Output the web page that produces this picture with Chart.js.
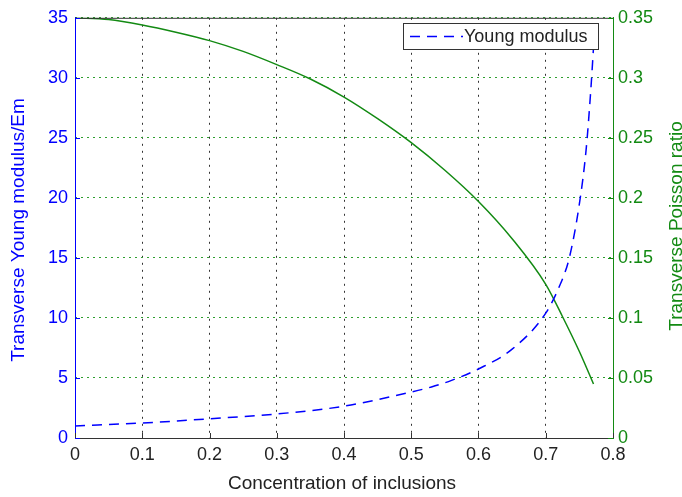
<!DOCTYPE html>
<html>
<head>
<meta charset="utf-8">
<script src="https://cdn.jsdelivr.net/npm/chart.js@4.4.0/dist/chart.umd.min.js"></script>
<style>
  body { margin: 0; background: #fff; }
  #wrap { width: 682px; height: 497px; }
</style>
</head>
<body>
<div id="wrap"><canvas id="chart" width="682" height="497"></canvas></div>
<script>
// concentration values (x) and the two curves
const youngX = [0, 0.1, 0.2, 0.3, 0.4, 0.5, 0.53, 0.56, 0.6, 0.65, 0.7, 0.72, 0.735, 0.75, 0.76, 0.767, 0.771];
const youngY = [1.0, 1.25, 1.6, 2.0, 2.65, 3.83, 4.25, 4.8, 5.75, 7.4, 10.4, 12.6, 15, 19.5, 24, 29, 32.5];

const poissonX = [0, 0.05, 0.1, 0.15, 0.2, 0.25, 0.3, 0.35, 0.4, 0.45, 0.5, 0.55, 0.6, 0.65, 0.7, 0.725, 0.75, 0.771];
const poissonY = [0.35, 0.3485, 0.344, 0.338, 0.331, 0.322, 0.311, 0.299, 0.284, 0.266, 0.246, 0.223, 0.197, 0.166, 0.128, 0.101, 0.072, 0.045];

const xTicks = [0, 0.1, 0.2, 0.3, 0.4, 0.5, 0.6, 0.7, 0.8];
const xTickLabels = ["0", "0.1", "0.2", "0.3", "0.4", "0.5", "0.6", "0.7", "0.8"];
const leftTicks = [0, 5, 10, 15, 20, 25, 30, 35];
const leftTickLabels = ["0", "5", "10", "15", "20", "25", "30", "35"];
const rightTicks = [0, 0.05, 0.1, 0.15, 0.2, 0.25, 0.3, 0.35];
const rightTickLabels = ["0", "0.05", "0.1", "0.15", "0.2", "0.25", "0.3", "0.35"];

const BLUE = "#0000ff";
const GREEN = "#138a13";
const GRID_GREEN = "#30a030";
const DARK = "#333333";
const FONT = "'Liberation Sans', Arial, sans-serif";

function pts(xs, ys) {
    return xs.map((x, i) => ({ x: x, y: ys[i] }));
}

// titles, legend box, inward ticks and top box line
const decorations = {
    id: "decorations",
    afterDraw(chart) {
        const ctx = chart.ctx;
        const a = chart.chartArea;
        const sx = chart.scales.x, sy = chart.scales.y, sy1 = chart.scales.y1;
        ctx.save();

        // top line of the box
        ctx.strokeStyle = DARK;
        ctx.lineWidth = 1;
        ctx.beginPath();
        ctx.moveTo(a.left, a.top + 0.5);
        ctx.lineTo(a.right, a.top + 0.5);
        ctx.stroke();

        // ticks pointing inwards
        xTicks.forEach(v => {
            const px = Math.round(sx.getPixelForValue(v)) + 0.5;
            ctx.strokeStyle = DARK;
            ctx.beginPath();
            ctx.moveTo(px, a.bottom);
            ctx.lineTo(px, a.bottom - 5);
            ctx.stroke();
        });
        leftTicks.forEach(v => {
            const py = Math.round(sy.getPixelForValue(v)) + 0.5;
            ctx.strokeStyle = BLUE;
            ctx.beginPath();
            ctx.moveTo(a.left, py);
            ctx.lineTo(a.left + 5, py);
            ctx.stroke();
        });
        rightTicks.forEach(v => {
            const py = Math.round(sy1.getPixelForValue(v)) + 0.5;
            ctx.strokeStyle = GREEN;
            ctx.beginPath();
            ctx.moveTo(a.right, py);
            ctx.lineTo(a.right - 5, py);
            ctx.stroke();
        });

        // axis titles
        ctx.font = "19px " + FONT;
        ctx.textAlign = "center";
        ctx.textBaseline = "middle";
        ctx.fillStyle = "#222";
        ctx.fillText("Concentration of inclusions", 342, 484);

        ctx.save();
        ctx.translate(19, 230);
        ctx.rotate(-Math.PI / 2);
        ctx.fillStyle = BLUE;
        ctx.fillText("Transverse Young modulus/Em", 0, 0);
        ctx.restore();

        ctx.save();
        ctx.translate(677, 226);
        ctx.rotate(-Math.PI / 2);
        ctx.fillStyle = GREEN;
        ctx.fillText("Transverse Poisson ratio", 0, 0);
        ctx.restore();

        // legend box
        const ds = chart.data.datasets[0];
        ctx.fillStyle = "#fff";
        ctx.fillRect(403.5, 23.5, 195, 26);
        ctx.strokeStyle = DARK;
        ctx.lineWidth = 1;
        ctx.strokeRect(403.5, 23.5, 195, 26);
        ctx.strokeStyle = ds.borderColor;
        ctx.lineWidth = ds.borderWidth;
        ctx.setLineDash(ds.borderDash);
        ctx.beginPath();
        ctx.moveTo(410, 36.5);
        ctx.lineTo(463, 36.5);
        ctx.stroke();
        ctx.setLineDash([]);
        ctx.fillStyle = "#222";
        ctx.textAlign = "left";
        ctx.font = "18px " + FONT;
        ctx.fillText(ds.label, 464, 37);

        ctx.restore();
    }
};

const ctx = document.getElementById("chart").getContext("2d");
const chart = new Chart(ctx, {
    type: "line",
    data: {
        datasets: [
            {
                label: "Young modulus",
                data: pts(youngX, youngY),
                yAxisID: "y",
                borderColor: BLUE,
                borderWidth: 1.5,
                borderDash: [10, 7],
                pointRadius: 0,
                fill: false,
                cubicInterpolationMode: "monotone"
            },
            {
                label: "Poisson ratio",
                data: pts(poissonX, poissonY),
                yAxisID: "y1",
                borderColor: GREEN,
                borderWidth: 1.5,
                pointRadius: 0,
                fill: false,
                cubicInterpolationMode: "monotone"
            }
        ]
    },
    options: {
        responsive: false,
        animation: false,
        layout: { padding: { top: 15, left: 0, right: 0, bottom: 0 } },
        plugins: {
            legend: { display: false },
            tooltip: { enabled: false }
        },
        scales: {
            x: {
                type: "linear",
                min: 0,
                max: 0.8,
                afterBuildTicks: s => { s.ticks = xTicks.map(v => ({ value: v })); },
                afterFit: s => { s.height = 59; },
                ticks: {
                    color: "#222",
                    font: { family: FONT, size: 18 },
                    padding: 6,
                    maxRotation: 0,
                    autoSkip: false,
                    callback: (v, i) => xTickLabels[i]
                },
                grid: { color: DARK, lineWidth: 1, drawTicks: false },
                border: { color: DARK, width: 1, dash: [2, 5] }
            },
            y: {
                type: "linear",
                position: "left",
                min: 0,
                max: 35,
                afterBuildTicks: s => { s.ticks = leftTicks.map(v => ({ value: v })); },
                afterFit: s => { s.width = 75; },
                ticks: {
                    color: BLUE,
                    font: { family: FONT, size: 18 },
                    padding: 7,
                    autoSkip: false,
                    callback: (v, i) => leftTickLabels[i]
                },
                grid: { display: false, drawTicks: false },
                border: { color: BLUE, width: 1 }
            },
            y1: {
                type: "linear",
                position: "right",
                min: 0,
                max: 0.35,
                afterBuildTicks: s => { s.ticks = rightTicks.map(v => ({ value: v })); },
                afterFit: s => { s.width = 69; },
                ticks: {
                    color: GREEN,
                    font: { family: FONT, size: 18 },
                    padding: 5,
                    autoSkip: false,
                    callback: (v, i) => rightTickLabels[i]
                },
                grid: { color: GRID_GREEN, lineWidth: 1, drawTicks: false },
                border: { color: GREEN, width: 1, dash: [2, 4] }
            }
        }
    },
    plugins: [decorations]
});
</script>
</body>
</html>
